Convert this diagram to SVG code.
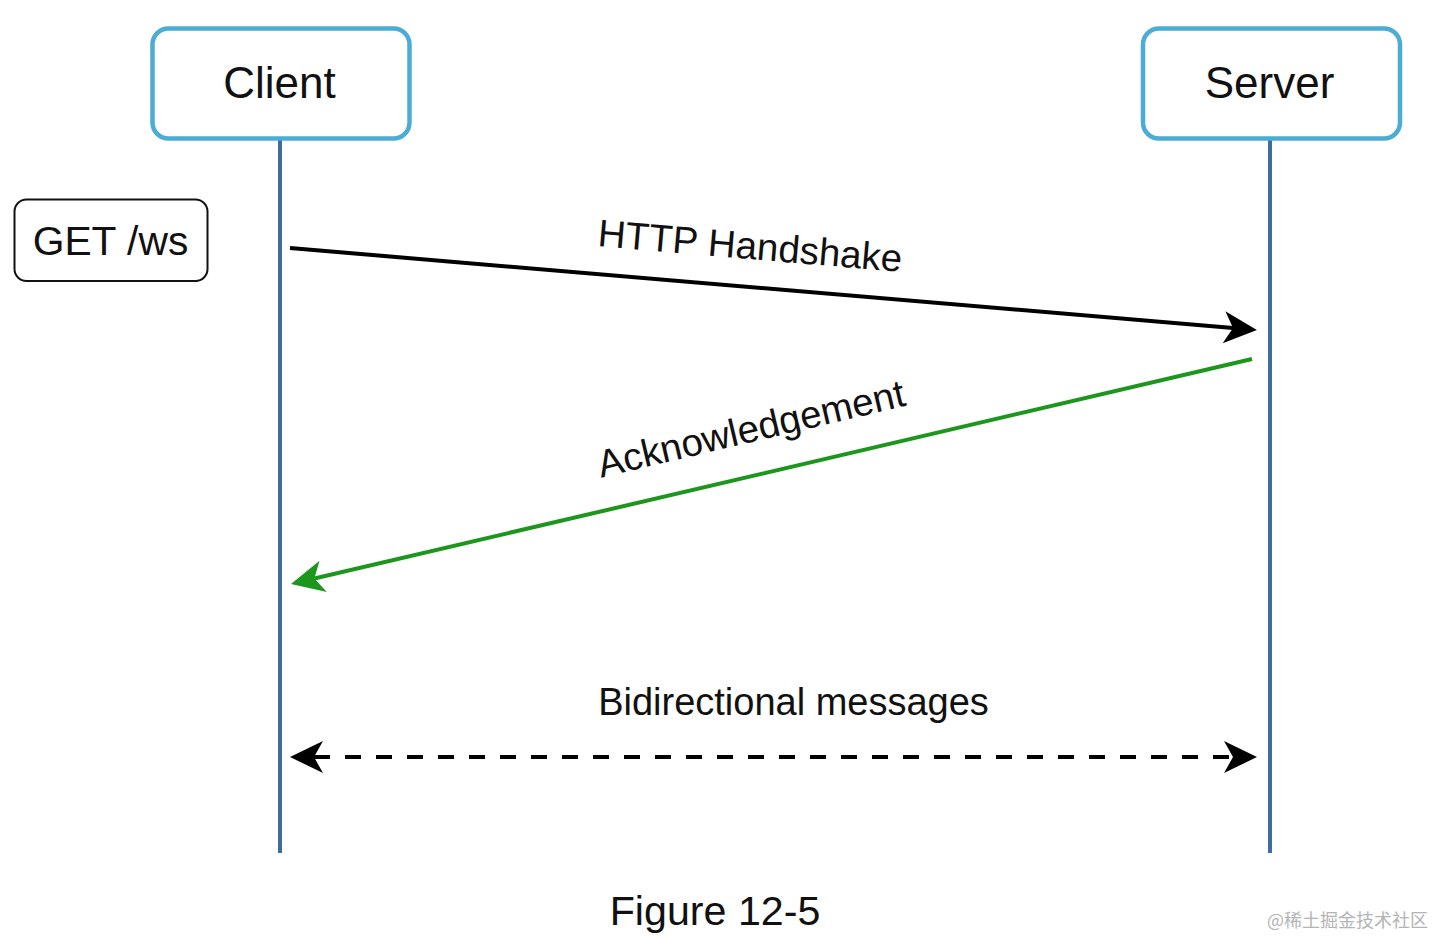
<svg xmlns="http://www.w3.org/2000/svg" width="1433" height="938" viewBox="0 0 1433 938">
  <defs>
    <style>
      .actor { fill: #ffffff; stroke: #4BADD5; stroke-width: 4.5; }
      .lifeline { stroke: #3D6D9C; stroke-width: 4; fill: none; }
      .lbl { font-family: "Liberation Sans", Arial, sans-serif; fill: #111111; }
      .note { fill: #ffffff; stroke: #111111; stroke-width: 2; }
      .msg { fill: none; stroke-width: 4; }
    </style>
    <marker id="arrBlack" viewBox="0 0 34 34" refX="10" refY="17" markerWidth="34" markerHeight="34" markerUnits="userSpaceOnUse" orient="auto-start-reverse">
      <path d="M34,17 L1,1 L10,17 L1,33 Z" fill="#000000"/>
    </marker>
    <marker id="arrGreen" viewBox="0 0 34 34" refX="10" refY="17" markerWidth="34" markerHeight="34" markerUnits="userSpaceOnUse" orient="auto-start-reverse">
      <path d="M34,17 L1,1 L10,17 L1,33 Z" fill="#1C961C"/>
    </marker>
  </defs>
  <rect width="1433" height="938" fill="#ffffff"/>

  <g id="lifelines">
    <line class="lifeline" x1="280" y1="139" x2="280" y2="853"/>
    <line class="lifeline" x1="1270" y1="139" x2="1270" y2="853"/>
  </g>

  <g id="client">
    <rect class="actor" x="152.5" y="28.5" width="257" height="110" rx="16"/>
    <text class="lbl" x="279.5" y="98" font-size="44" text-anchor="middle">Client</text>
  </g>

  <g id="server">
    <rect class="actor" x="1143" y="28.5" width="257" height="110" rx="16"/>
    <text class="lbl" x="1269.5" y="98" font-size="44" text-anchor="middle">Server</text>
  </g>

  <g id="get-ws">
    <rect class="note" x="14.5" y="199.5" width="193" height="81.5" rx="12"/>
    <text class="lbl" x="110.5" y="255" font-size="40.8" text-anchor="middle">GET /ws</text>
  </g>

  <g id="connectors">
    <line class="msg" x1="290" y1="248" x2="1233" y2="328" stroke="#000000" marker-end="url(#arrBlack)"/>
    <line class="msg" x1="1252" y1="359" x2="314.4" y2="578.5" stroke="#1C961C" marker-end="url(#arrGreen)"/>
    <line class="msg" x1="314" y1="757" x2="1233" y2="757" stroke="#000000" stroke-dasharray="16 15" marker-start="url(#arrBlack)" marker-end="url(#arrBlack)"/>
  </g>

  <g id="labels">
    <text class="lbl" x="749" y="259" font-size="38.5" text-anchor="middle" transform="rotate(4.85 749 259)">HTTP Handshake</text>
    <text class="lbl" x="754" y="441.5" font-size="38.5" text-anchor="middle" transform="rotate(-13.3 754 441.5)">Acknowledgement</text>
    <text class="lbl" x="793.5" y="715" font-size="38" text-anchor="middle">Bidirectional messages</text>
  </g>

  <g id="caption">
    <text class="lbl" x="715" y="925" font-size="41.2" text-anchor="middle">Figure 12-5</text>
  </g>

  <g id="watermark">
    <text x="1267" y="927" font-size="18" fill="#B4B4B4" font-family="'Noto Sans CJK SC', 'Liberation Sans', sans-serif">@稀土掘金技术社区</text>
  </g>
</svg>
